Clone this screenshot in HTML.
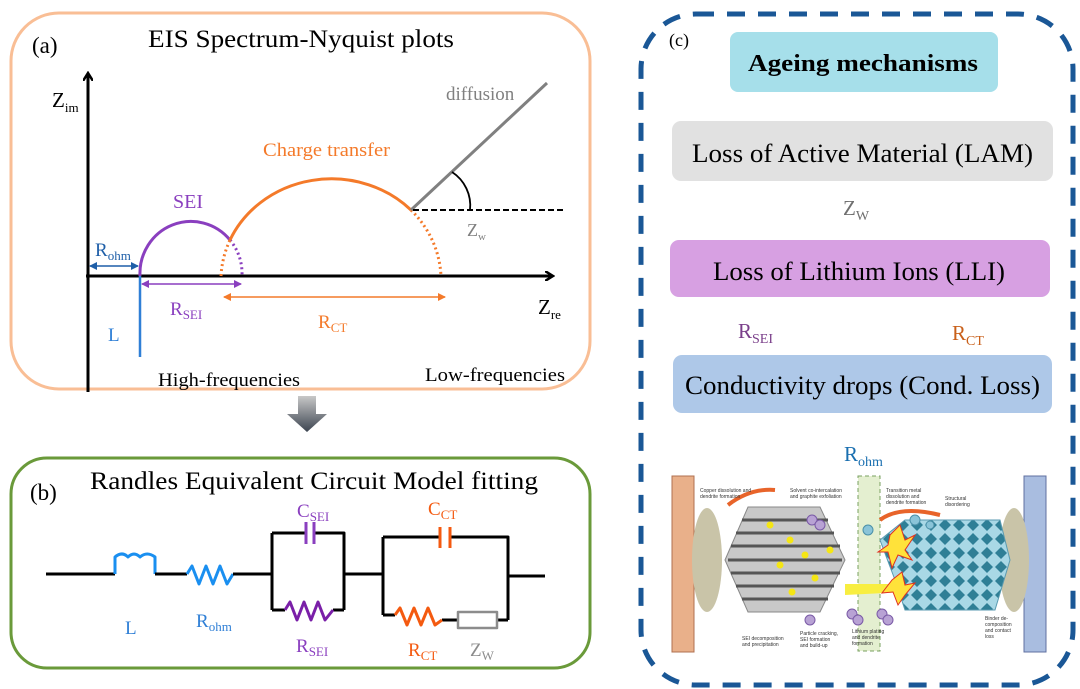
<!DOCTYPE html>
<html><head><meta charset="utf-8"><style>
html,body{margin:0;padding:0;background:#fff;}
svg{display:block;font-family:"Liberation Serif",serif;}
</style></head><body>
<svg width="1080" height="689" viewBox="0 0 1080 689" xmlns="http://www.w3.org/2000/svg">
<defs>
<marker id="ak" markerWidth="10" markerHeight="10" refX="8" refY="5" orient="auto" markerUnits="userSpaceOnUse"><path d="M0,0 L8,5 L0,10" fill="none" stroke="#000" stroke-width="2.5"/></marker>
<marker id="ab" markerWidth="8" markerHeight="8" refX="7" refY="4" orient="auto-start-reverse" markerUnits="userSpaceOnUse"><path d="M0,0 L8,4 L0,8z" fill="#1f5fa8"/></marker>
<marker id="ap" markerWidth="8" markerHeight="8" refX="7" refY="4" orient="auto-start-reverse" markerUnits="userSpaceOnUse"><path d="M0,0 L8,4 L0,8z" fill="#8a3fbf"/></marker>
<marker id="ao" markerWidth="8" markerHeight="8" refX="7" refY="4" orient="auto-start-reverse" markerUnits="userSpaceOnUse"><path d="M0,0 L8,4 L0,8z" fill="#f47a2a"/></marker>
<linearGradient id="gd" x1="0" y1="0" x2="0" y2="1"><stop offset="0" stop-color="#c8c8c8"/><stop offset="1" stop-color="#3c4450"/></linearGradient>
<pattern id="dia" width="14" height="14" patternUnits="userSpaceOnUse"><rect width="14" height="14" fill="#a9d8e6"/><path d="M7,1 L13,7 L7,13 L1,7z" fill="#2f7f96"/></pattern>
</defs>

<!-- Panel a -->
<rect x="11" y="13" width="579" height="376" rx="48" fill="none" stroke="#f9be95" stroke-width="3"/>
<text x="32" y="53" font-size="23">(a)</text>
<text x="148" y="47" font-size="25" textLength="306" lengthAdjust="spacingAndGlyphs">EIS Spectrum-Nyquist plots</text>
<line x1="88" y1="392" x2="88" y2="73" stroke="#000" stroke-width="3" marker-end="url(#ak)"/>
<line x1="86" y1="276" x2="553" y2="276" stroke="#000" stroke-width="3" marker-end="url(#ak)"/>
<text x="52" y="107" font-size="21">Z<tspan font-size="13" dy="5">im</tspan></text>
<text x="538" y="314" font-size="21">Z<tspan font-size="13" dy="5">re</tspan></text>
<line x1="140" y1="276" x2="140" y2="357" stroke="#2f7fd6" stroke-width="2.5"/>
<text x="108" y="341" font-size="19" fill="#2f7fd6">L</text>
<line x1="90" y1="266" x2="138" y2="266" stroke="#1f5fa8" stroke-width="1.5" marker-start="url(#ab)" marker-end="url(#ab)"/>
<text x="95" y="256" font-size="19" fill="#1f5fa8">R<tspan font-size="13" dy="4">ohm</tspan></text>
<path d="M140,276 A51,52 0 0 1 230,240" fill="none" stroke="#8a3fbf" stroke-width="3"/>
<path d="M230,240 A51,52 0 0 1 242,276" fill="none" stroke="#8a3fbf" stroke-width="3" stroke-dasharray="2,3"/>
<text x="173" y="208" font-size="20" fill="#8a3fbf">SEI</text>
<path d="M221,276 A111,103 0 0 1 230,240" fill="none" stroke="#f47a2a" stroke-width="3" stroke-dasharray="2,3"/>
<path d="M230,240 A111,103 0 0 1 411,210" fill="none" stroke="#f47a2a" stroke-width="3"/>
<path d="M411,210 A111,103 0 0 1 441,276" fill="none" stroke="#f47a2a" stroke-width="3" stroke-dasharray="2,3"/>
<text x="263" y="156" font-size="19" fill="#f47a2a" textLength="127" lengthAdjust="spacingAndGlyphs">Charge  transfer</text>
<line x1="411" y1="210" x2="547" y2="83" stroke="#808080" stroke-width="3"/>
<line x1="413" y1="210" x2="564" y2="210" stroke="#000" stroke-width="2" stroke-dasharray="6,3"/>
<path d="M452,172 A40,40 0 0 1 470,210" fill="none" stroke="#000" stroke-width="1.8"/>
<text x="446" y="100" font-size="19" fill="#808080">diffusion</text>
<text x="467" y="236" font-size="18" fill="#808080">Z<tspan font-size="11" dy="4">w</tspan></text>
<line x1="142" y1="284" x2="241" y2="284" stroke="#8a3fbf" stroke-width="1.5" marker-start="url(#ap)" marker-end="url(#ap)"/>
<text x="170" y="315" font-size="19" fill="#8a3fbf">R<tspan font-size="13" dy="4">SEI</tspan></text>
<line x1="224" y1="297" x2="445" y2="297" stroke="#f47a2a" stroke-width="1.5" marker-start="url(#ao)" marker-end="url(#ao)"/>
<text x="318" y="328" font-size="19" fill="#f47a2a">R<tspan font-size="13" dy="4">CT</tspan></text>
<text x="158" y="386" font-size="19" textLength="142" lengthAdjust="spacingAndGlyphs">High-frequencies</text>
<text x="425" y="381" font-size="19" textLength="140" lengthAdjust="spacingAndGlyphs">Low-frequencies</text>

<path d="M298,396 L316,396 L316,414 L327,414 L307,432 L287,414 L298,414z" fill="url(#gd)"/>

<!-- Panel b -->
<rect x="11" y="458" width="579" height="210" rx="36" fill="none" stroke="#6a9a3a" stroke-width="3"/>
<text x="30" y="500" font-size="23">(b)</text>
<text x="90" y="489" font-size="25" textLength="448" lengthAdjust="spacingAndGlyphs">Randles Equivalent Circuit Model fitting</text>
<g fill="none" stroke-width="3" stroke-linejoin="round">
<path d="M46,574 L115,574" stroke="#000"/>
<path d="M115,574 L115,557 Q122,551 128,557 Q134,551 140,557 Q147,551 155,557 L155,574" stroke="#1a8ff0"/>
<path d="M155,574 L187,574" stroke="#000"/>
<path d="M187,574 L192,566 L199,584 L206,566 L213,584 L220,566 L227,584 L233,574" stroke="#1a8ff0"/>
<path d="M233,574 L272,574 M272,533 L272,610 M272,533 L306,533 M314,533 L344,533 L344,610 M272,610 L285,610 M333,610 L344,610 M344,574 L383,574 M383,537 L383,615 M383,537 L440,537 M450,537 L508,537 L508,620 M383,615 L395,615 M442,620 L458,620 M497,620 L508,620 M508,576 L545,576" stroke="#000"/>
<path d="M306,522 L306,544 M314,522 L314,544" stroke="#8a3fbf"/>
<path d="M285,610 L290,602 L297,620 L304,602 L311,620 L318,602 L325,620 L333,610" stroke="#7a1fa8"/>
<path d="M440,527 L440,548 M450,527 L450,548" stroke="#f45a10"/>
<path d="M395,615 L400,608 L407,625 L414,608 L421,625 L428,608 L435,625 L442,620" stroke="#f45a10"/>
<rect x="458" y="612" width="39" height="16" stroke="#8c8c8c" stroke-width="2.5"/>
</g>
<text x="125" y="634" font-size="19" fill="#2f7fd6">L</text>
<text x="196" y="627" font-size="19" fill="#2f7fd6">R<tspan font-size="13" dy="4">ohm</tspan></text>
<text x="297" y="517" font-size="19" fill="#8a3fbf">C<tspan font-size="13" dy="4">SEI</tspan></text>
<text x="296" y="652" font-size="19" fill="#8a3fbf">R<tspan font-size="13" dy="4">SEI</tspan></text>
<text x="428" y="515" font-size="19" fill="#f45a10">C<tspan font-size="13" dy="4">CT</tspan></text>
<text x="408" y="656" font-size="19" fill="#f45a10">R<tspan font-size="13" dy="4">CT</tspan></text>
<text x="470" y="656" font-size="19" fill="#8c8c8c">Z<tspan font-size="13" dy="4">W</tspan></text>

<!-- Panel c -->
<rect x="641" y="14" width="432" height="671" rx="55" fill="none" stroke="#1a5796" stroke-width="5" stroke-dasharray="18,13"/>
<text x="669" y="46" font-size="18">(c)</text>
<rect x="730" y="32" width="268" height="60" rx="8" fill="#a6dfea"/>
<text x="748" y="71" font-size="24" font-weight="bold" textLength="230" lengthAdjust="spacingAndGlyphs">Ageing mechanisms</text>
<rect x="672" y="121" width="381" height="60" rx="9" fill="#e1e1e1"/>
<text x="692" y="162" font-size="26" textLength="341" lengthAdjust="spacingAndGlyphs">Loss of Active Material (LAM)</text>
<text x="843" y="215" font-size="21" fill="#707070">Z<tspan font-size="14" dy="5">W</tspan></text>
<rect x="670" y="240" width="380" height="57" rx="9" fill="#d7a0e2"/>
<text x="713" y="280" font-size="26" textLength="292" lengthAdjust="spacingAndGlyphs">Loss of Lithium Ions (LLI)</text>
<text x="738" y="338" font-size="21" fill="#7a3f8a">R<tspan font-size="14" dy="5">SEI</tspan></text>
<text x="952" y="340" font-size="21" fill="#c9601a">R<tspan font-size="14" dy="5">CT</tspan></text>
<rect x="673" y="355" width="379" height="58" rx="9" fill="#aec8e8"/>
<text x="685" y="394" font-size="26" textLength="355" lengthAdjust="spacingAndGlyphs">Conductivity drops (Cond. Loss)</text>
<text x="844" y="461" font-size="21" fill="#1a6fb0">R<tspan font-size="14" dy="5">ohm</tspan></text>

<!-- battery illustration (approx) -->
<rect x="672" y="476" width="22" height="176" fill="#e9b08a" stroke="#b07050"/>
<rect x="1024" y="476" width="22" height="176" fill="#a9bde0" stroke="#6070a0"/>
<ellipse cx="707" cy="560" rx="15" ry="52" fill="#c9c4a8"/>
<ellipse cx="1014" cy="560" rx="15" ry="52" fill="#c9c4a8"/>
<path d="M725,560 L748,507 L820,507 L845,560 L820,612 L748,612z" fill="#c8c8c8" stroke="#888"/>
<g stroke="#555" stroke-width="3">
<line x1="742" y1="520" x2="828" y2="520"/><line x1="736" y1="533" x2="834" y2="533"/><line x1="731" y1="546" x2="840" y2="546"/><line x1="728" y1="560" x2="842" y2="560"/><line x1="731" y1="573" x2="840" y2="573"/><line x1="736" y1="586" x2="834" y2="586"/><line x1="742" y1="599" x2="828" y2="599"/>
</g>
<g fill="#f5e614">
<circle cx="770" cy="525" r="3.5"/><circle cx="790" cy="540" r="3.5"/><circle cx="805" cy="555" r="3.5"/><circle cx="780" cy="565" r="3.5"/><circle cx="815" cy="578" r="3.5"/><circle cx="792" cy="592" r="3.5"/><circle cx="830" cy="550" r="3.5"/><circle cx="910" cy="548" r="3.5"/><circle cx="925" cy="565" r="3.5"/><circle cx="950" cy="555" r="3.5"/>
</g>
<rect x="858" y="476" width="22" height="175" fill="#e4efd0" stroke="#7aa060" stroke-dasharray="4,3"/>
<path d="M880,540 L905,520 L1000,520 L1010,560 L995,610 L905,610 L895,580z" fill="url(#dia)" stroke="#5a9ab0"/>
<path d="M845,584 L905,584 L905,592 L845,595z" fill="#f8ee40"/>
<path d="M890,535 L900,525 L905,540 L915,535 L905,550 L912,560 L898,555 L892,568 L888,552 L878,552 L888,545z" fill="#ffe23a" stroke="#e03020"/>
<path d="M892,580 L902,572 L905,585 L915,583 L905,595 L898,605 L893,592 L882,593z" fill="#ffe23a" stroke="#e03020"/>
<path d="M728,505 Q750,488 775,490" fill="none" stroke="#e8642a" stroke-width="4"/>
<path d="M940,515 Q900,505 880,520" fill="none" stroke="#e8642a" stroke-width="4"/>
<g fill="#b8a2d4" stroke="#7a5aa6"><circle cx="812" cy="520" r="5"/><circle cx="820" cy="525" r="5"/><circle cx="852" cy="614" r="5"/><circle cx="858" cy="620" r="5"/><circle cx="882" cy="614" r="5"/><circle cx="888" cy="620" r="5"/><circle cx="810" cy="620" r="5"/></g>
<g fill="#8ac4d8" stroke="#4a90a8"><circle cx="915" cy="520" r="5"/><circle cx="930" cy="525" r="4"/><circle cx="868" cy="530" r="5"/></g>
<g font-family="Liberation Sans,sans-serif" font-size="5" fill="#333">
<text x="700" y="492">Copper dissolution and</text><text x="700" y="498">dendrite formation</text>
<text x="790" y="492">Solvent co-intercalation</text><text x="790" y="498">and graphite exfoliation</text>
<text x="886" y="492">Transition metal</text><text x="886" y="498">dissolution and</text><text x="886" y="504">dendrite formation</text>
<text x="945" y="500">Structural</text><text x="945" y="506">disordering</text>
<text x="742" y="640">SEI decomposition</text><text x="742" y="646">and precipitation</text>
<text x="800" y="635">Particle cracking,</text><text x="800" y="641">SEI formation</text><text x="800" y="647">and build-up</text>
<text x="852" y="633">Lithium plating</text><text x="852" y="639">and dendrite</text><text x="852" y="645">formation</text>
<text x="985" y="620">Binder de-</text><text x="985" y="626">composition</text><text x="985" y="632">and contact</text><text x="985" y="638">loss</text>
</g>
</svg>
</body></html>
